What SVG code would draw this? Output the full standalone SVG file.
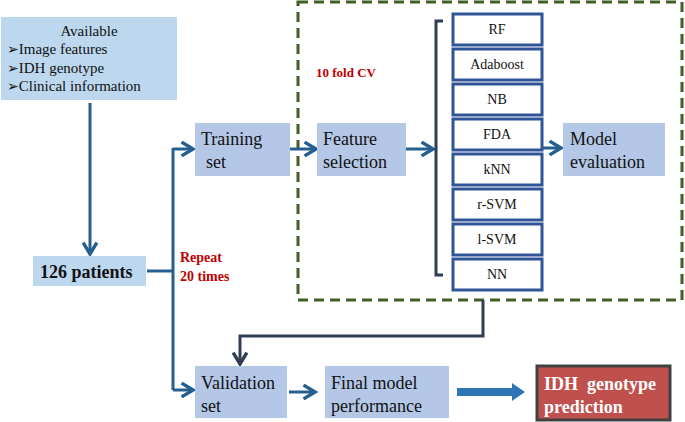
<svg xmlns="http://www.w3.org/2000/svg" width="685" height="422" viewBox="0 0 685 422">
<style>
text{font-family:"Liberation Serif","Times New Roman",serif;fill:#111}
.sym{font-family:"DejaVu Sans",sans-serif;font-size:14px}
.lb{fill:#bdd7ee}
.bb{fill:#b4c7e7}
.t17{font-size:18px}
.clf rect{fill:#fff;stroke:#2f5597;stroke-width:3}
.clf text{font-size:14px;text-anchor:middle}
.red{fill:#c00000;font-weight:bold;font-size:14px}
.ln{fill:none;stroke:#255e91;stroke-width:3}
.dk{fill:none;stroke:#2f3e55;stroke-width:3}
</style>
<defs>
<marker id="ch" markerUnits="userSpaceOnUse" markerWidth="16" markerHeight="16" refX="11" refY="7" orient="auto" viewBox="0 0 14 14">
<path d="M1,1 L11,7 L1,13" fill="none" stroke="#255e91" stroke-width="3"/>
</marker>
<marker id="chd" markerUnits="userSpaceOnUse" markerWidth="16" markerHeight="16" refX="11" refY="7" orient="auto" viewBox="0 0 14 14">
<path d="M1,1 L11,7 L1,13" fill="none" stroke="#2f3e55" stroke-width="3"/>
</marker>
</defs>
<rect x="298" y="2" width="384" height="298" fill="none" stroke="#3f5f23" stroke-width="3" stroke-dasharray="10,6"/>
<text x="316" y="77" class="red" style="font-size:13px">10 fold CV</text>
<g id="connectors">
<path class="ln" d="M90,103 V254" marker-end="url(#ch)"/>
<path class="ln" d="M147,271 H173"/>
<path class="ln" d="M173,148 V390"/>
<path class="ln" d="M173,149 H193" marker-end="url(#ch)"/>
<path class="ln" d="M173,390 H193" marker-end="url(#ch)"/>
<path class="ln" d="M290,149 H316" marker-end="url(#ch)"/>
<path class="ln" d="M406,149 H433" marker-end="url(#ch)"/>
<path class="dk" d="M443,21 H436 V275 H443"/>
<path class="ln" d="M540,148 H561" marker-end="url(#ch)"/>
<path class="dk" d="M483,300 V336 H240 V364" marker-end="url(#chd)"/>
<path class="ln" d="M289,392 H315" marker-end="url(#ch)"/>
<path d="M457,392 H513" stroke="#2e75b6" stroke-width="8" fill="none"/>
<path d="M512,383 L525,392 L512,401 Z" fill="#2e75b6"/>
</g>
<g id="available">
<rect class="lb" x="1" y="17" width="176" height="83"/>
<text x="89" y="36" text-anchor="middle" style="font-size:15px">Available</text>
<text x="7" y="54" style="font-size:15px"><tspan class="sym">➢</tspan>Image features</text>
<text x="7" y="73" style="font-size:15px"><tspan class="sym">➢</tspan>IDH genotype</text>
<text x="7" y="91" style="font-size:15px"><tspan class="sym">➢</tspan>Clinical information</text>
</g>
<g id="patients">
<rect class="lb" x="33" y="256" width="113" height="30"/>
<text x="40" y="278" style="font-size:18px;font-weight:bold">126 patients</text>
</g>
<g id="repeat">
<text x="180" y="262" class="red">Repeat</text>
<text x="180" y="281" class="red">20 times</text>
</g>
<g id="training">
<rect class="bb" x="195" y="123" width="95" height="53"/>
<text x="201" y="145" class="t17">Training</text>
<text x="206" y="168" class="t17">set</text>
</g>
<g id="feature">
<rect class="bb" x="317" y="123" width="89" height="53"/>
<text x="323" y="145" class="t17">Feature</text>
<text x="323" y="168" class="t17">selection</text>
</g>
<g id="classifiers" class="clf">
<g id="rf"><rect x="453" y="14" width="89" height="31"/><text x="497" y="34">RF</text></g>
<g id="adaboost"><rect x="453" y="49" width="89" height="31"/><text x="497" y="69">Adaboost</text></g>
<g id="nb"><rect x="453" y="84" width="89" height="31"/><text x="497" y="104">NB</text></g>
<g id="fda"><rect x="453" y="119" width="89" height="31"/><text x="497" y="139">FDA</text></g>
<g id="knn"><rect x="453" y="154" width="89" height="31"/><text x="497" y="174">kNN</text></g>
<g id="rsvm"><rect x="453" y="189" width="89" height="31"/><text x="497" y="209">r-SVM</text></g>
<g id="lsvm"><rect x="453" y="224" width="89" height="31"/><text x="497" y="244">l-SVM</text></g>
<g id="nn"><rect x="453" y="259" width="89" height="31"/><text x="497" y="279">NN</text></g>
</g>
<g id="model-eval">
<rect class="bb" x="563" y="123" width="102" height="53"/>
<text x="570" y="145" class="t17">Model</text>
<text x="570" y="168" class="t17">evaluation</text>
</g>
<g id="validation">
<rect class="bb" x="195" y="366" width="92" height="52"/>
<text x="201" y="389" class="t17">Validation</text>
<text x="201" y="412" class="t17">set</text>
</g>
<g id="final">
<rect class="bb" x="325" y="366" width="124" height="52"/>
<text x="331" y="389" class="t17">Final model</text>
<text x="331" y="412" class="t17">performance</text>
</g>
<g id="idh">
<rect x="537" y="366" width="133" height="54" fill="#c0504d" stroke="#404040" stroke-width="3"/>
<text x="544" y="390" style="font-size:18px;font-weight:bold;fill:#fff" xml:space="preserve">IDH  genotype</text>
<text x="544" y="413" style="font-size:18px;font-weight:bold;fill:#fff">prediction</text>
</g>
</svg>
